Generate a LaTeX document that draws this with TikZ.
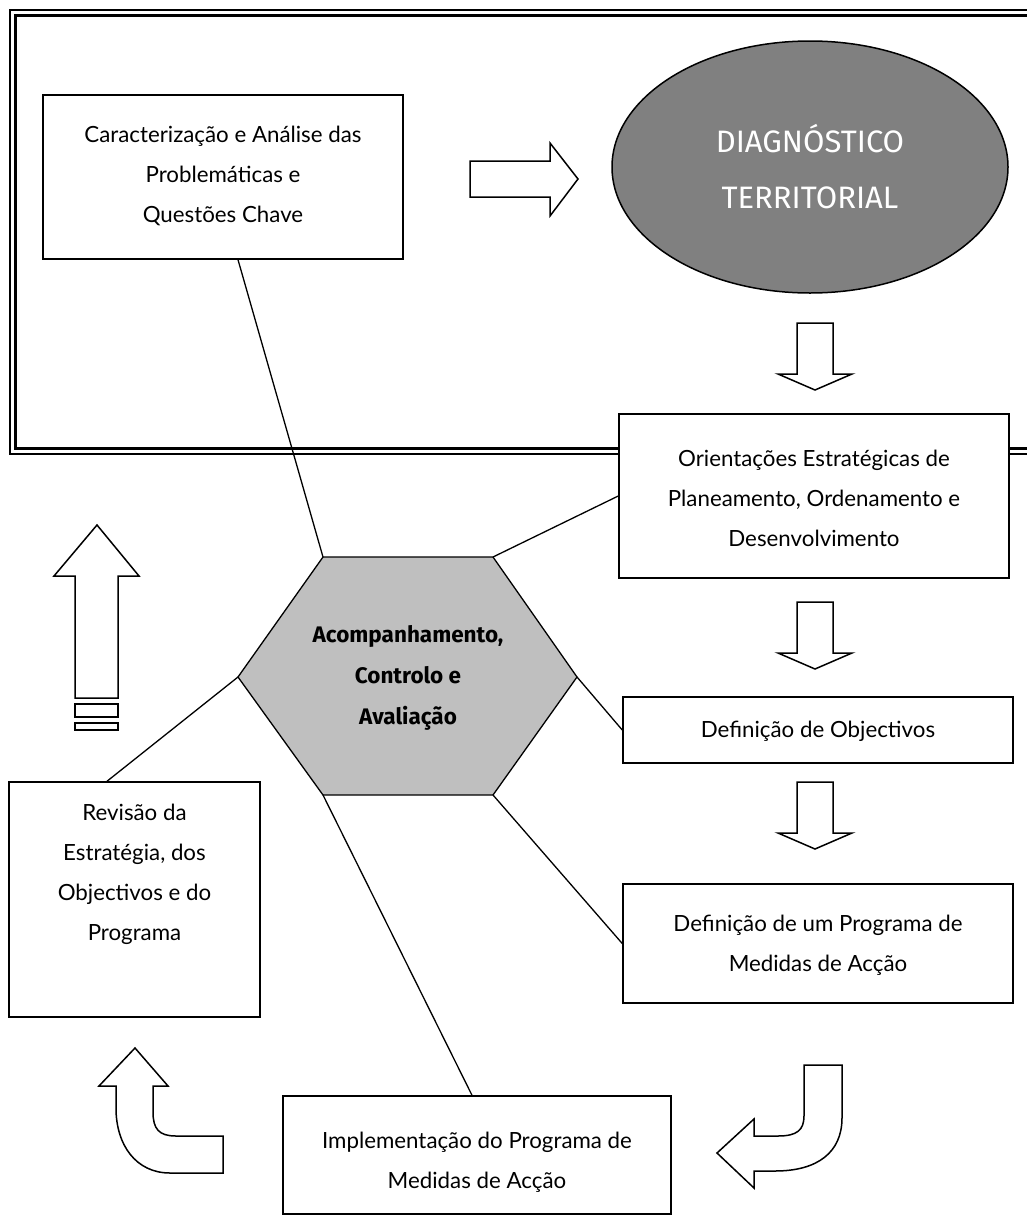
\documentclass[tikz,border=0pt]{standalone}
\usepackage{fontspec}
\setmainfont{Lato}
\newfontfamily\hexfont{Fira Sans}
\usetikzlibrary{calc,shapes.geometric}
\begin{document}
\begin{tikzpicture}[x=1pt,y=-1pt,
  box/.style={draw, line width=1.5pt, fill=white, inner sep=0pt},
  txt/.style={align=center, inner sep=0pt, font=\fontsize{22.3}{40}\selectfont},
  barrow/.style={draw, line width=1.5pt, fill=white, line join=miter},
  conn/.style={line width=1.3pt},
  frameo/.style={line width=1.8pt},
  framei/.style={line width=2.6pt}]
\useasboundingbox (0,0) rectangle (1027,1216);
% double frame
\draw[frameo] (1040,10) -- (10,10) -- (10,454) -- (1040,454);
\draw[framei] (1040,15.5) -- (15.5,15.5) -- (15.5,448.5) -- (1040,448.5);
% hexagon vertices
\coordinate (h1) at (323,557);
\coordinate (h2) at (493,557);
\coordinate (h3) at (577,677);
\coordinate (h4) at (493,795);
\coordinate (h5) at (323,795);
\coordinate (h6) at (238,677);
% boxes
\node[box, minimum width=360pt, minimum height=164pt] (b1) at (223,177) {};
\node[txt] (b1t) at (223,176) {Caracterização e Análise das\\Problemáticas e\\Questões Chave};
\node[draw, line width=1.5pt, fill=black!50, ellipse, minimum width=396pt, minimum height=252pt, inner sep=0pt] (diag) at (810,167) {};
\node[align=center, text=white, font=\hexfont\fontsize{31}{56}\selectfont] (diagt) at (810,167) {DIAGNÓSTICO\\TERRITORIAL};
\node[box, minimum width=390pt, minimum height=164pt] (or) at (814,496) {};
\node[txt] (ort) at (814,498) {Orientações Estratégicas de\\Planeamento, Ordenamento e\\Desenvolvimento};
\node[box, minimum width=390pt, minimum height=66pt] (do) at (818,730) {};
\node[txt] (dot) at (818,731) {Definição de Objectivos};
\node[box, minimum width=390pt, minimum height=119pt] (dp) at (818,943.5) {};
\node[txt] (dpt) at (818,945) {Definição de um Programa de\\Medidas de Acção};
\node[box, minimum width=388pt, minimum height=118pt] (im) at (477,1155) {};
\node[txt] (imt) at (477,1162) {Implementação do Programa de\\Medidas de Acção};
\node[box, minimum width=251pt, minimum height=235pt] (rv) at (134.5,899.5) {};
\node[txt] (rvt) at (134.5,874) {Revisão da\\Estratégia, dos\\Objectivos e do\\Programa};
% hexagon
\draw[line width=1.3pt, fill=black!25] (h1) -- (h2) -- (h3) -- (h4) -- (h5) -- (h6) -- cycle;
\node[align=center, font=\hexfont\bfseries\fontsize{22.5}{41}\selectfont] (hex) at (408,678) {Acompanhamento,\\Controlo e\\Avaliação};
% connectors
\draw[conn] ([xshift=15pt]b1.south) -- (h1);
\draw[conn] (h2) -- (or.west);
\draw[conn] (h3) -- (do.west);
\draw[conn] (h4) -- (dp.west);
\draw[conn] (h5) -- ([xshift=-5pt]im.north);
\draw[conn] (h6) -- ([xshift=-27.5pt]rv.north);
% block arrows
\draw[barrow] (470,161) -- (550,161) -- (550,143) -- (578,179) -- (550,216) -- (550,197) -- (470,197) -- cycle;
\draw[barrow] (797,323) -- (833,323) -- (833,374) -- (852,374) -- (815,390) -- (778,374) -- (797,374) -- cycle;
\draw[barrow] (797,602) -- (833,602) -- (833,653) -- (852,653) -- (815,669) -- (778,653) -- (797,653) -- cycle;
\draw[barrow] (797,782) -- (833,782) -- (833,833) -- (852,833) -- (815,849) -- (778,833) -- (797,833) -- cycle;
% up arrow with bars
\draw[barrow] (97,525) -- (139,576) -- (118,576) -- (118,698) -- (75,698) -- (75,576) -- (54,576) -- cycle;
\draw[barrow] (75,704) rectangle (118,717);
\draw[barrow] (75,723) rectangle (118,730);
% curved arrow right (pointing left)
\draw[barrow] (804,1065) -- (842,1065) -- (842,1118)
  .. controls (842,1152) and (818,1171) .. (775,1171) -- (754,1171) -- (754,1188) -- (717,1153)
  -- (754,1119) -- (754,1136) -- (778,1136) .. controls (797,1136) and (804,1130) .. (804,1116) -- cycle;
% curved arrow left (pointing up)
\draw[barrow] (135,1048) -- (168,1086) -- (153,1086) -- (153,1112)
  .. controls (153,1129) and (159,1136) .. (176,1136) -- (223,1136) -- (223,1173) -- (170,1173)
  .. controls (136,1173) and (116,1145) .. (116,1108) -- (116,1086) -- (99,1086) -- cycle;
\end{tikzpicture}
\end{document}
